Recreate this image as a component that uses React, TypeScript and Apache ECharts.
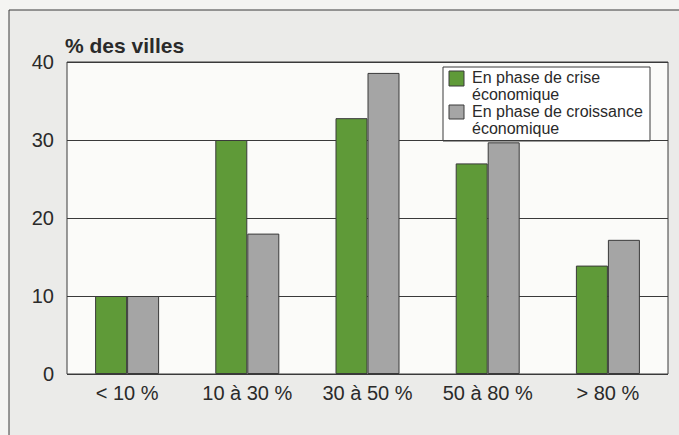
import React, { useEffect, useRef } from "react";
import * as echarts from "echarts";

const categories = ["< 10 %", "10 à 30 %", "30 à 50 %", "50 à 80 %", "> 80 %"];
const seriesNames = ["En phase de crise\néconomique", "En phase de croissance\néconomique"];
const crise = [10, 30, 32.8, 27, 13.9];
const croissance = [10, 18, 38.6, 29.7, 17.2];
const yTicks = { min: 0, max: 40, interval: 10 };
const yTitle = "% des villes";

const GREEN = "#5f9a38";
const GRAY = "#a5a5a5";
const LINE = "#3a3a3a";

export default function App() {
  const ref = useRef<HTMLDivElement>(null);
  useEffect(() => {
    document.body.style.margin = "0";
    const chart = echarts.init(ref.current!, null, { renderer: "svg" });
    const font = "Liberation Sans, Arial, sans-serif";
    chart.setOption({
      animation: false,
      backgroundColor: "#f4f4f2",
      textStyle: { fontFamily: font },
      graphic: [
        {
          type: "rect",
          z: -10,
          shape: { x: 9, y: 10, width: 700, height: 500 },
          style: { fill: "#ebebe9", stroke: LINE, lineWidth: 1 },
        },
        {
          type: "group",
          z: 100,
          children: [
            {
              type: "rect",
              shape: { x: 443, y: 67, width: 207, height: 74 },
              style: { fill: "#ffffff", stroke: LINE, lineWidth: 1 },
            },
            {
              type: "rect",
              shape: { x: 449, y: 71, width: 15, height: 15 },
              style: { fill: GREEN, stroke: LINE, lineWidth: 1 },
            },
            {
              type: "text",
              x: 472,
              y: 69,
              style: {
                text: seriesNames[0],
                font: `16px ${font}`,
                lineHeight: 17,
                fill: "#2a2a2a",
              },
            },
            {
              type: "rect",
              shape: { x: 449, y: 105, width: 15, height: 14 },
              style: { fill: GRAY, stroke: LINE, lineWidth: 1 },
            },
            {
              type: "text",
              x: 472,
              y: 103,
              style: {
                text: seriesNames[1],
                font: `16px ${font}`,
                lineHeight: 17,
                fill: "#2a2a2a",
              },
            },
          ],
        },
      ],
      grid: {
        left: 67,
        right: 11,
        top: 62,
        bottom: 61,
        show: true,
        backgroundColor: "#fbfbf9",
        borderColor: LINE,
        borderWidth: 1,
      },
      xAxis: {
        type: "category",
        data: categories,
        axisLine: { show: false },
        axisTick: { show: false },
        axisLabel: { color: "#2a2a2a", fontSize: 20, margin: 9, fontFamily: font },
      },
      yAxis: {
        type: "value",
        min: yTicks.min,
        max: yTicks.max,
        interval: yTicks.interval,
        name: yTitle,
        nameLocation: "end",
        nameGap: 6,
        nameTextStyle: {
          fontSize: 21,
          fontWeight: "bold",
          color: "#2a2a2a",
          align: "left",
          padding: [0, 0, 0, -2],
          fontFamily: font,
        },
        axisLine: { show: false },
        axisTick: { show: false },
        axisLabel: { color: "#2a2a2a", fontSize: 20, margin: 13, fontFamily: font },
        splitLine: { lineStyle: { color: LINE, width: 1 } },
      },
      series: [
        {
          name: seriesNames[0],
          type: "bar",
          data: crise,
          barWidth: 32,
          barGap: "0%",
          itemStyle: { color: GREEN, borderColor: LINE, borderWidth: 1 },
        },
        {
          name: seriesNames[1],
          type: "bar",
          data: croissance,
          barWidth: 32,
          barGap: "0%",
          itemStyle: { color: GRAY, borderColor: LINE, borderWidth: 1 },
        },
      ],
    });
    return () => chart.dispose();
  }, []);
  return <div ref={ref} style={{ width: 679, height: 435 }} />;
}
